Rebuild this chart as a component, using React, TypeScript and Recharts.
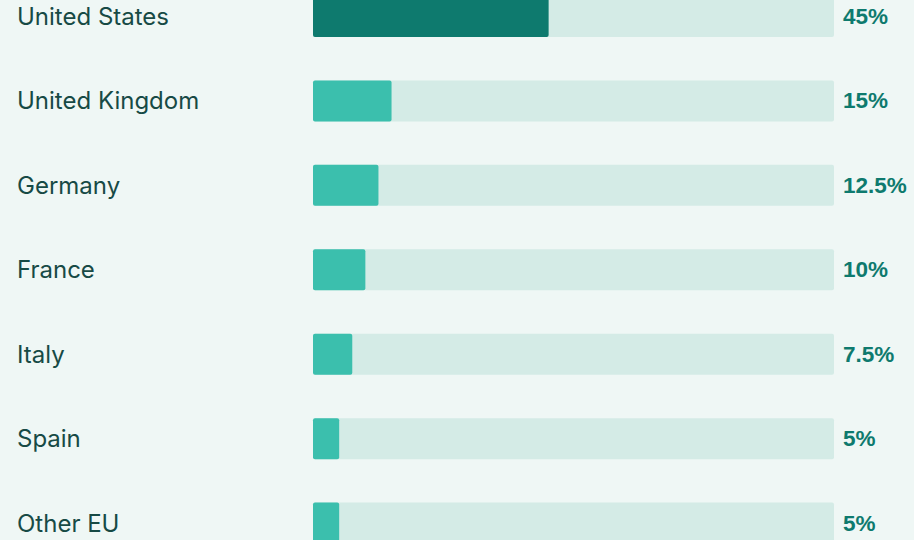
import React from 'react';
import { BarChart, Bar, XAxis, YAxis, Cell, LabelList } from 'recharts';

const countries = ['United States', 'United Kingdom', 'Germany', 'France', 'Italy', 'Spain', 'Other EU'];
const shares = [45, 15, 12.5, 10, 7.5, 5, 5];
const shareLabels = ['45%', '15%', '12.5%', '10%', '7.5%', '5%', '5%'];

const data = countries.map((name, i) => ({ name, share: shares[i], label: shareLabels[i] }));

const W = 914;
const H = 591;
const M = { top: 0, right: 80, bottom: 0, left: 313 };

const CountryLabel = (props: any) => {
  const { y, height, index } = props;
  return (
    <text x={17} y={y + height / 2} dominantBaseline="central" textAnchor="start"
      fill="#174a45" fontSize={24} fontFamily="Inter, sans-serif">
      {data[index].name}
    </text>
  );
};

const ValueLabel = (props: any) => {
  const { y, height, index } = props;
  return (
    <text x={W - M.right + 9} y={y + height / 2} dominantBaseline="central"
      fill="#0e7a6e" fontSize={22.5} fontWeight="bold" fontFamily="'Liberation Sans', Arial, sans-serif">
      {data[index].label}
    </text>
  );
};

export default function App() {
  return (
    <div style={{ position: 'absolute', left: 0, top: 0, width: W, height: 540, overflow: 'hidden', background: '#eff7f5' }}>
      <div style={{ position: 'absolute', left: 0, top: -26 }}>
        <BarChart width={W} height={H} data={data} layout="vertical" margin={M}>
          <XAxis type="number" domain={[0, 99.5]} hide />
          <YAxis type="category" dataKey="name" hide />
          <Bar dataKey="share" barSize={41} radius={2} isAnimationActive={false}
            background={{ fill: '#d4ebe6', radius: 2 }}>
            {data.map((d, i) => (
              <Cell key={d.name} fill={i === 0 ? '#0e7a6e' : '#3bbfad'} />
            ))}
            <LabelList dataKey="name" content={<CountryLabel />} />
            <LabelList dataKey="label" content={<ValueLabel />} />
          </Bar>
        </BarChart>
      </div>
    </div>
  );
}
